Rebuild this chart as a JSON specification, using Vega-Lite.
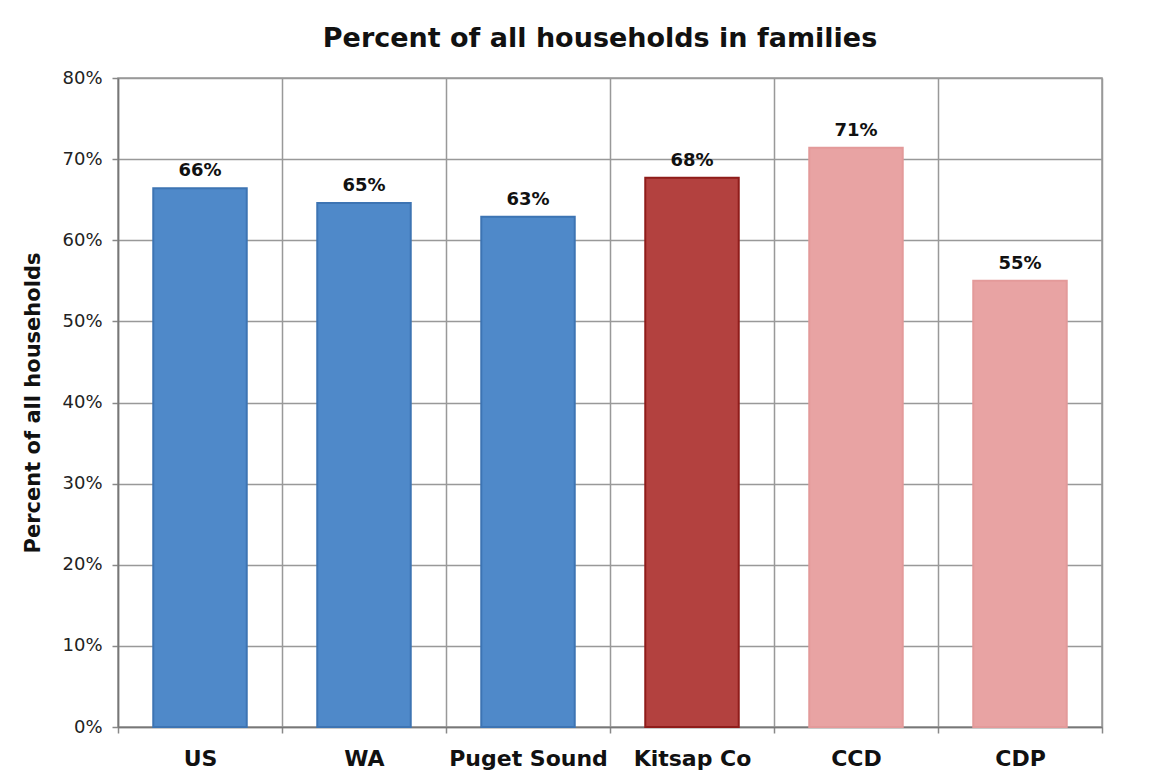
{
  "$schema": "https://vega.github.io/schema/vega-lite/v6.json",
  "autosize": {"type": "none"},
  "padding": {"left": 118, "top": 78, "right": 49, "bottom": 57},
  "width": 984,
  "height": 649,
  "background": "white",
  "title": {
    "text": "Percent of all households in families",
    "font": "DejaVu Sans",
    "fontSize": 27,
    "fontWeight": "bold",
    "color": "#111111",
    "anchor": "middle",
    "offset": 16,
    "dx": -10
  },
  "data": {
    "values": [
      {"region": "US", "pct": 0.664, "label": "66%", "group": "blue"},
      {"region": "WA", "pct": 0.646, "label": "65%", "group": "blue"},
      {"region": "Puget Sound", "pct": 0.629, "label": "63%", "group": "blue"},
      {"region": "Kitsap Co", "pct": 0.677, "label": "68%", "group": "dark"},
      {"region": "CCD", "pct": 0.714, "label": "71%", "group": "pink"},
      {"region": "CDP", "pct": 0.550, "label": "55%", "group": "pink"}
    ]
  },
  "encoding": {
    "x": {
      "field": "region",
      "type": "nominal",
      "sort": null,
      "scale": {"paddingInner": 0, "paddingOuter": 0},
      "axis": {
        "title": null,
        "labelAngle": 0,
        "labelFont": "DejaVu Sans",
        "labelFontSize": 22,
        "labelFontWeight": "bold",
        "labelColor": "#111111",
        "labelPadding": 15,
        "tickBand": "extent",
        "ticks": true,
        "tickSize": 6,
        "tickColor": "#888888",
        "tickWidth": 1.5,
        "grid": true,
        "gridColor": "#999999",
        "gridWidth": 1.5,
        "domainColor": "#777777",
        "domainWidth": 1.5
      }
    },
    "y": {
      "field": "pct",
      "type": "quantitative",
      "scale": {"domain": [0, 0.8]},
      "axis": {
        "title": "Percent of all households",
        "titleFont": "DejaVu Sans",
        "titleFontSize": 21,
        "titleFontWeight": "bold",
        "titleColor": "#111111",
        "titlePadding": 18,
        "format": ".0%",
        "values": [0, 0.1, 0.2, 0.3, 0.4, 0.5, 0.6, 0.7, 0.8],
        "labelOverlap": false,
        "labelFont": "DejaVu Sans",
        "labelFontSize": 18,
        "labelColor": "#222222",
        "labelPadding": 10,
        "tickSize": 6,
        "tickColor": "#888888",
        "tickWidth": 1.5,
        "grid": true,
        "gridColor": "#999999",
        "gridWidth": 1.5,
        "domainColor": "#777777",
        "domainWidth": 1.5
      }
    }
  },
  "layer": [
    {
      "mark": {"type": "bar", "strokeWidth": 2, "width": {"band": 0.57}},
      "encoding": {
        "color": {
          "field": "group",
          "type": "nominal",
          "scale": {"domain": ["blue", "dark", "pink"], "range": ["#4f89c9", "#b3413f", "#e8a3a3"]},
          "legend": null
        },
        "stroke": {
          "field": "group",
          "type": "nominal",
          "scale": {"domain": ["blue", "dark", "pink"], "range": ["#3d74b3", "#8f1c1a", "#e39a9a"]},
          "legend": null
        }
      }
    },
    {
      "mark": {"type": "text", "baseline": "bottom", "dy": -8, "font": "DejaVu Sans", "fontSize": 18, "fontWeight": "bold", "color": "#111111"},
      "encoding": {"text": {"field": "label"}}
    }
  ],
  "config": {
    "view": {"stroke": "#999999", "strokeWidth": 1.5}
  }
}
